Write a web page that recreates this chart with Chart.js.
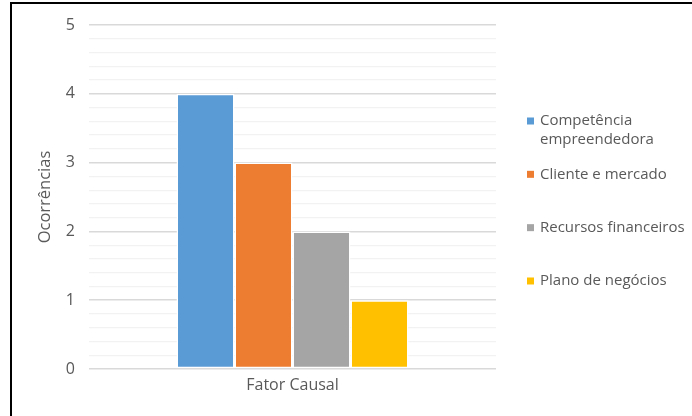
<!DOCTYPE html>
<html>
<head>
<meta charset="utf-8">
<script src="https://cdn.jsdelivr.net/npm/chart.js@4/dist/chart.umd.min.js"></script>
<style>
  html, body { margin: 0; padding: 0; background: #ffffff; }
  #wrap { position: relative; width: 692px; height: 416px; }
  canvas { display: block; }
</style>
</head>
<body>
<div id="wrap"><canvas id="chart" width="692" height="416"></canvas></div>
<script>
// Category and series
const categories = ['Fator Causal'];
const seriesNames = ['Competência empreendedora', 'Cliente e mercado', 'Recursos financeiros', 'Plano de negócios'];
const seriesValues = [4, 3, 2, 1];
const seriesColors = ['#5b9bd5', '#ed7d31', '#a5a5a5', '#ffc000'];
const axisTitle = 'Ocorrências';

const FONT = "'Open Sans', sans-serif";
const TEXT = '#595959';

// Frame lines, rotated axis title and wrapped legend at the right
const decorations = {
  id: 'decorations',
  afterDraw(chart) {
    const ctx = chart.ctx;
    const area = chart.chartArea;
    ctx.save();
    ctx.fillStyle = '#000000';
    ctx.fillRect(10, 2, 682, 2);
    ctx.fillRect(10, 2, 2, 414);

    ctx.fillStyle = TEXT;
    ctx.font = '16.5px ' + FONT;
    ctx.textAlign = 'center';
    ctx.textBaseline = 'middle';
    ctx.translate(45, (area.top + area.bottom) / 2);
    ctx.rotate(-Math.PI / 2);
    ctx.fillText(axisTitle, 0, 0);
    ctx.restore();

    ctx.save();
    ctx.font = '15px ' + FONT;
    ctx.textBaseline = 'middle';
    ctx.textAlign = 'left';
    const boxX = 527, textX = 540, maxW = 148, lineH = 19;
    chart.data.datasets.forEach((ds, i) => {
      const y = 121 + i * 53.33;
      ctx.fillStyle = ds.backgroundColor;
      ctx.fillRect(boxX, y - 3.5, 7, 7);
      // wrap label into lines
      const words = ds.label.split(' ');
      const lines = [];
      let cur = '';
      words.forEach(w => {
        const t = cur ? cur + ' ' + w : w;
        if (ctx.measureText(t).width > maxW && cur) { lines.push(cur); cur = w; }
        else cur = t;
      });
      if (cur) lines.push(cur);
      ctx.fillStyle = TEXT;
      lines.forEach((ln, k) => ctx.fillText(ln, textX, y + k * lineH));
    });
    ctx.restore();
  }
};

new Chart(document.getElementById('chart'), {
  type: 'bar',
  data: {
    labels: categories,
    datasets: seriesNames.map((name, i) => ({
      label: name,
      data: [seriesValues[i]],
      backgroundColor: seriesColors[i],
      borderColor: '#ffffff',
      borderWidth: 1.5,
      borderSkipped: false
    }))
  },
  options: {
    responsive: false,
    animation: false,
    devicePixelRatio: 1,
    layout: { padding: { top: 25, right: 196, bottom: 0, left: 0 } },
    datasets: { bar: { categoryPercentage: 0.57, barPercentage: 1.0 } },
    plugins: {
      legend: { display: false },
      tooltip: { enabled: false }
    },
    scales: {
      x: {
        grid: { display: false },
        border: { display: false },
        ticks: { color: TEXT, font: { family: FONT, size: 16 }, padding: -1 },
        afterFit(scale) { scale.height = 47; }
      },
      y: {
        min: 0,
        max: 5,
        border: { display: false },
        grid: {
          drawTicks: false,
          color: (c) => {
            const v = c.tick ? c.tick.value : 0;
            return Math.abs(v - Math.round(v)) < 1e-6 ? '#d9d9d9' : '#f2f2f2';
          },
          lineWidth: (c) => {
            const v = c.tick ? c.tick.value : 0;
            return Math.abs(v - Math.round(v)) < 1e-6 ? 1.5 : 1.2;
          }
        },
        ticks: {
          stepSize: 0.2,
          autoSkip: false,
          padding: 14,
          color: TEXT,
          font: { family: FONT, size: 16 },
          callback: (v) => Math.abs(v - Math.round(v)) < 1e-6 ? String(Math.round(v)) : ''
        },
        afterFit(scale) { scale.width = 89; }
      }
    }
  },
  plugins: [decorations]
});
</script>
</body>
</html>
